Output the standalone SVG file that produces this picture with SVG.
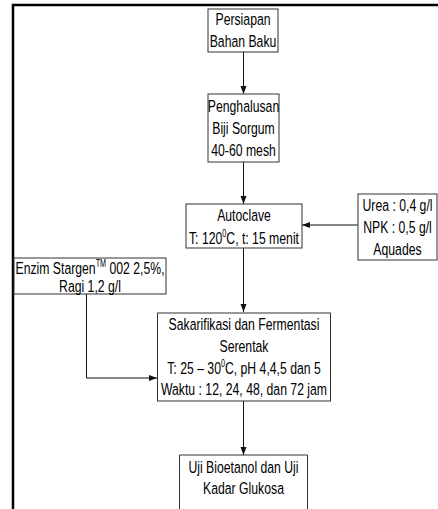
<svg xmlns="http://www.w3.org/2000/svg" width="438" height="509" viewBox="0 0 438 509">
<style>
.box{fill:#fff;stroke:#333;stroke-width:1}
.t{font-family:"Liberation Sans",Arial,sans-serif;font-size:17px;fill:#000;text-anchor:middle}
.c{stroke:#111;stroke-width:1;fill:none}
.sup{font-size:10px}
</style>
<defs>
<marker id="ah" viewBox="0 0 8 8" refX="8" refY="4" markerWidth="8" markerHeight="8" markerUnits="userSpaceOnUse" orient="auto">
<path d="M0,1 L8,4 L0,7 Z" fill="#111"/>
</marker>
</defs>
<rect width="438" height="509" fill="#fff"/>
<g id="frame">
<path d="M13,509 V5 H438" fill="none" stroke="#000" stroke-width="2.5"/>
</g>
<g id="connectors">
<path class="c" d="M243.5,52 V94" marker-end="url(#ah)"/>
<path class="c" d="M243.5,162 V204" marker-end="url(#ah)"/>
<path class="c" d="M358,225 H302" marker-end="url(#ah)"/>
<path class="c" d="M243.5,248 V312" marker-end="url(#ah)"/>
<path class="c" d="M86.5,294 V378 H157" marker-end="url(#ah)"/>
<path class="c" d="M243.5,401 V455" marker-end="url(#ah)"/>
</g>
<g id="n1">
<rect class="box" x="208" y="9" width="70" height="43"/>
<g transform="translate(243,0) scale(0.72,1)">
<text class="t" x="0" y="25">Persiapan</text>
<text class="t" x="0" y="47">Bahan Baku</text>
</g>
</g>
<g id="n2">
<rect class="box" x="208" y="94" width="71" height="68"/>
<g transform="translate(243.5,0) scale(0.72,1)">
<text class="t" x="0" y="112">Penghalusan</text>
<text class="t" x="0" y="134">Biji Sorgum</text>
<text class="t" x="0" y="156">40-60 mesh</text>
</g>
</g>
<g id="n3">
<rect class="box" x="186" y="204" width="116" height="44"/>
<g transform="translate(244,0) scale(0.72,1)">
<text class="t" x="0" y="221">Autoclave</text>
<text class="t" x="0" y="244">T: 120<tspan class="sup" dy="-7">0</tspan><tspan dy="7">C, t: 15 menit</tspan></text>
</g>
</g>
<g id="n4">
<rect class="box" x="358" y="194" width="79" height="66"/>
<g transform="translate(397.5,0) scale(0.72,1)">
<text class="t" x="0" y="211">Urea : 0,4 g/l</text>
<text class="t" x="0" y="233">NPK : 0,5 g/l</text>
<text class="t" x="0" y="255">Aquades</text>
</g>
</g>
<g id="n5">
<rect class="box" x="14" y="258" width="152" height="36"/>
<g transform="translate(90,0) scale(0.72,1)">
<text class="t" x="0" y="274">Enzim Stargen<tspan class="sup" dy="-7">TM</tspan><tspan dy="7"> 002 2,5%,</tspan></text>
<text class="t" x="0" y="292">Ragi 1,2 g/l</text>
</g>
</g>
<g id="n6">
<rect class="box" x="157.5" y="313" width="173" height="88"/>
<g transform="translate(244,0) scale(0.72,1)">
<text class="t" x="0" y="330">Sakarifikasi dan Fermentasi</text>
<text class="t" x="0" y="352">Serentak</text>
<text class="t" x="0" y="374">T: 25 – 30<tspan class="sup" dy="-7">0</tspan><tspan dy="7">C, pH 4,4,5 dan 5</tspan></text>
<text class="t" x="0" y="395">Waktu : 12, 24, 48, dan 72 jam</text>
</g>
</g>
<g id="n7">
<path class="box" d="M179.5,512 V455 H307.5 V512"/>
<g transform="translate(243.5,0) scale(0.72,1)">
<text class="t" x="0" y="473">Uji Bioetanol dan Uji</text>
<text class="t" x="0" y="494">Kadar Glukosa</text>
</g>
</g>
</svg>
